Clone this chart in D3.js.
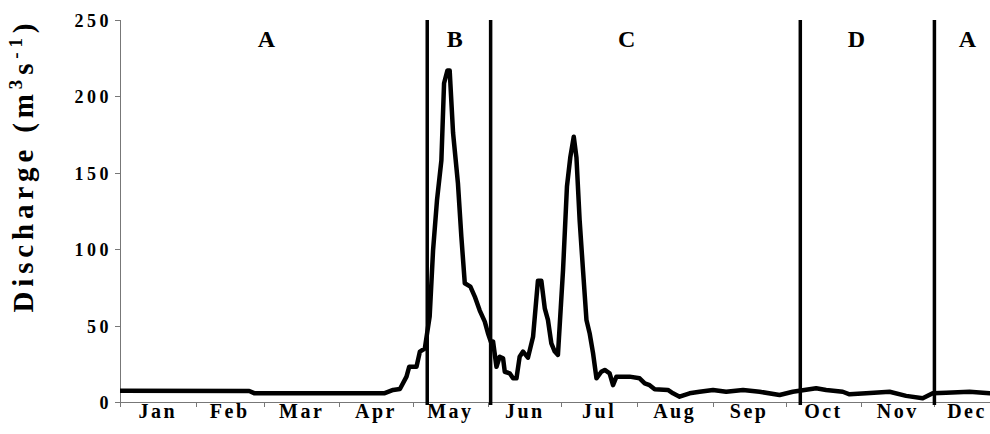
<!DOCTYPE html>
<html>
  <head>
    <meta charset="utf-8">
    <script src="https://cdn.jsdelivr.net/npm/d3@7"></script>
    <style type="text/css">
      body { margin: 0; background: #fff; }
      .axis path,
      .axis line {
        fill: none;
        stroke: #777;
        stroke-width: 1;
        shape-rendering: crispEdges;
      }
      .axis text {
        font-family: "Liberation Serif", "Times New Roman", serif;
        font-weight: bold;
        fill: #000;
      }
      .lbl {
        font-family: "Liberation Serif", "Times New Roman", serif;
        font-weight: bold;
        fill: #000;
      }
      .flow {
        fill: none;
        stroke: #000;
        stroke-width: 4.5;
        stroke-linejoin: round;
      }
      .period {
        stroke: #000;
        stroke-width: 3.5;
      }
    </style>
  </head>
  <body>
    <div class="plot_canvas"></div>
    <script>
      // daily discharge (day of year, m3/s)
      var flowDay = [0, 53, 55, 108.6, 112, 114.8, 117.5, 118.6, 121.6, 123, 125, 127, 128.4, 130,
        131.8, 132.9, 134.3, 135.2, 136.6, 138.6, 140, 141.4, 143.7, 145.5, 147.5, 149.6,
        150.9, 152.3, 153, 154.4, 155.7, 157.1, 157.8, 159.8, 161.2, 162.6, 163.9, 165.3,
        167.3, 169.4, 171.4, 172.8, 174.2, 175.5, 176.9, 178.3, 179.6, 181.7, 183.3, 184.7,
        186.1, 187.2, 188.5, 189.9, 191.3, 192.6, 194, 195.4, 197.4, 198.8, 200.8, 202.2,
        203.6, 209, 213.1, 215.2, 217.2, 219.3, 224.7, 226.8, 229.5, 233.6, 237.7, 243.2,
        248.6, 255.5, 262.3, 270.5, 275.9, 285.5, 289.6, 296.4, 299.2, 306, 315.6, 322.4,
        329.2, 333.3, 338.8, 348.4, 356.6, 365];
      var flowValue = [7.4, 7.2, 5.8, 5.8, 7.9, 8.5, 16.6, 23, 23, 33, 35, 56, 99.5, 132,
        158, 208.6, 217, 217, 176, 143, 108, 77.7, 75.5, 69, 60, 52.6,
        45, 38.4, 39.5, 23, 29.6, 28.6, 19.8, 18.8, 15.5, 15.5, 29.6, 33,
        29, 42.7, 79.4, 79.4, 61.3, 53.7, 38.4, 33, 30.8, 86.4, 141, 160.5,
        173.6, 160, 119, 86, 53.7, 45, 32, 15.5, 19.8, 21, 18.8, 11,
        16.6, 16.6, 15.5, 12.2, 11, 8.3, 7.9, 5.7, 3.5, 5.7, 6.7, 7.9,
        6.7, 7.9, 6.7, 4.6, 6.7, 9, 7.9, 6.7, 5, 5.7, 6.7, 4,
        2.4, 5.7, 6, 6.7, 5.7, 5.7];

      var months = ["Jan", "Feb", "Mar", "Apr", "May", "Jun", "Jul", "Aug", "Sep", "Oct", "Nov", "Dec"];
      var monthStart = [0, 31, 59, 90, 120, 151, 181, 212, 243, 273, 304, 334, 365];
      var yTicks = [0, 50, 100, 150, 200, 250];

      // hydrological period boundaries and their letters
      var periodBreaks = [126, 152, 279, 334];
      var periodNames = ["A", "B", "C", "D", "A"];
      var periodLabelDay = [60, 137.3, 207.8, 302, 347.5];

      var width = 990;
      var height = 434;

      var xScale = d3.scaleLinear().domain([0, 365]).range([120, 1010]);
      var yScale = d3.scaleLinear().domain([0, 250]).range([402, 20]);

      var svg = d3.select(".plot_canvas")
        .append("svg")
        .attr("width", width)
        .attr("height", height);

      // y axis
      var yAxis = d3.axisLeft(yScale)
        .tickValues(yTicks)
        .tickSize(5)
        .tickPadding(3);
      var gy = svg.append("g")
        .attr("class", "axis")
        .attr("transform", "translate(120,0)")
        .call(yAxis);
      gy.select(".domain").attr("d", "M0,20V406");
      gy.selectAll("text")
        .style("font-size", "18px")
        .style("letter-spacing", "3.5px")
        .attr("dy", "0.36em");

      // x axis, labels between month ticks
      var xAxis = d3.axisBottom(xScale)
        .tickValues(monthStart.slice(0, 12))
        .tickSize(5)
        .tickFormat("");
      var gx = svg.append("g")
        .attr("class", "axis")
        .attr("transform", "translate(0,402)")
        .call(xAxis);
      gx.select(".domain").attr("d", "M120,0H1010");

      svg.append("g").selectAll("text")
        .data(months).enter()
        .append("text")
        .attr("class", "lbl")
        .attr("x", function (d, i) {
          var mid = (xScale(monthStart[i]) + xScale(monthStart[i + 1])) / 2;
          return Math.min(mid, 967);
        })
        .attr("y", 418)
        .attr("text-anchor", "middle")
        .style("font-size", "20px")
        .style("letter-spacing", "2.5px")
        .text(function (d) { return d; });

      // y title
      var title = svg.append("text")
        .attr("class", "lbl")
        .attr("transform", "translate(33,168) rotate(-90)")
        .attr("text-anchor", "middle")
        .style("font-size", "29px")
        .attr("textLength", 289)
        .attr("lengthAdjust", "spacing");
      title.append("tspan").text("Discharge  (m");
      title.append("tspan").attr("dy", -11).style("font-size", "19px").text("3");
      title.append("tspan").attr("dy", 11).text("s");
      title.append("tspan").attr("dy", -11).style("font-size", "19px").text("-1");
      title.append("tspan").attr("dy", 11).text(")");

      // period boundaries
      svg.append("g").selectAll("line")
        .data(periodBreaks).enter()
        .append("line")
        .attr("class", "period")
        .attr("x1", function (d) { return xScale(d); })
        .attr("x2", function (d) { return xScale(d); })
        .attr("y1", yScale(250))
        .attr("y2", 405);

      svg.append("g").selectAll("text")
        .data(periodNames).enter()
        .append("text")
        .attr("class", "lbl")
        .attr("x", function (d, i) { return xScale(periodLabelDay[i]); })
        .attr("y", 47)
        .attr("text-anchor", "middle")
        .style("font-size", "24px")
        .text(function (d) { return d; });

      // discharge
      var line = d3.line()
        .x(function (d) { return xScale(d); })
        .y(function (d, i) { return yScale(flowValue[i]); });

      svg.append("path")
        .attr("class", "flow")
        .attr("d", line(flowDay));
    </script>
  </body>
</html>
